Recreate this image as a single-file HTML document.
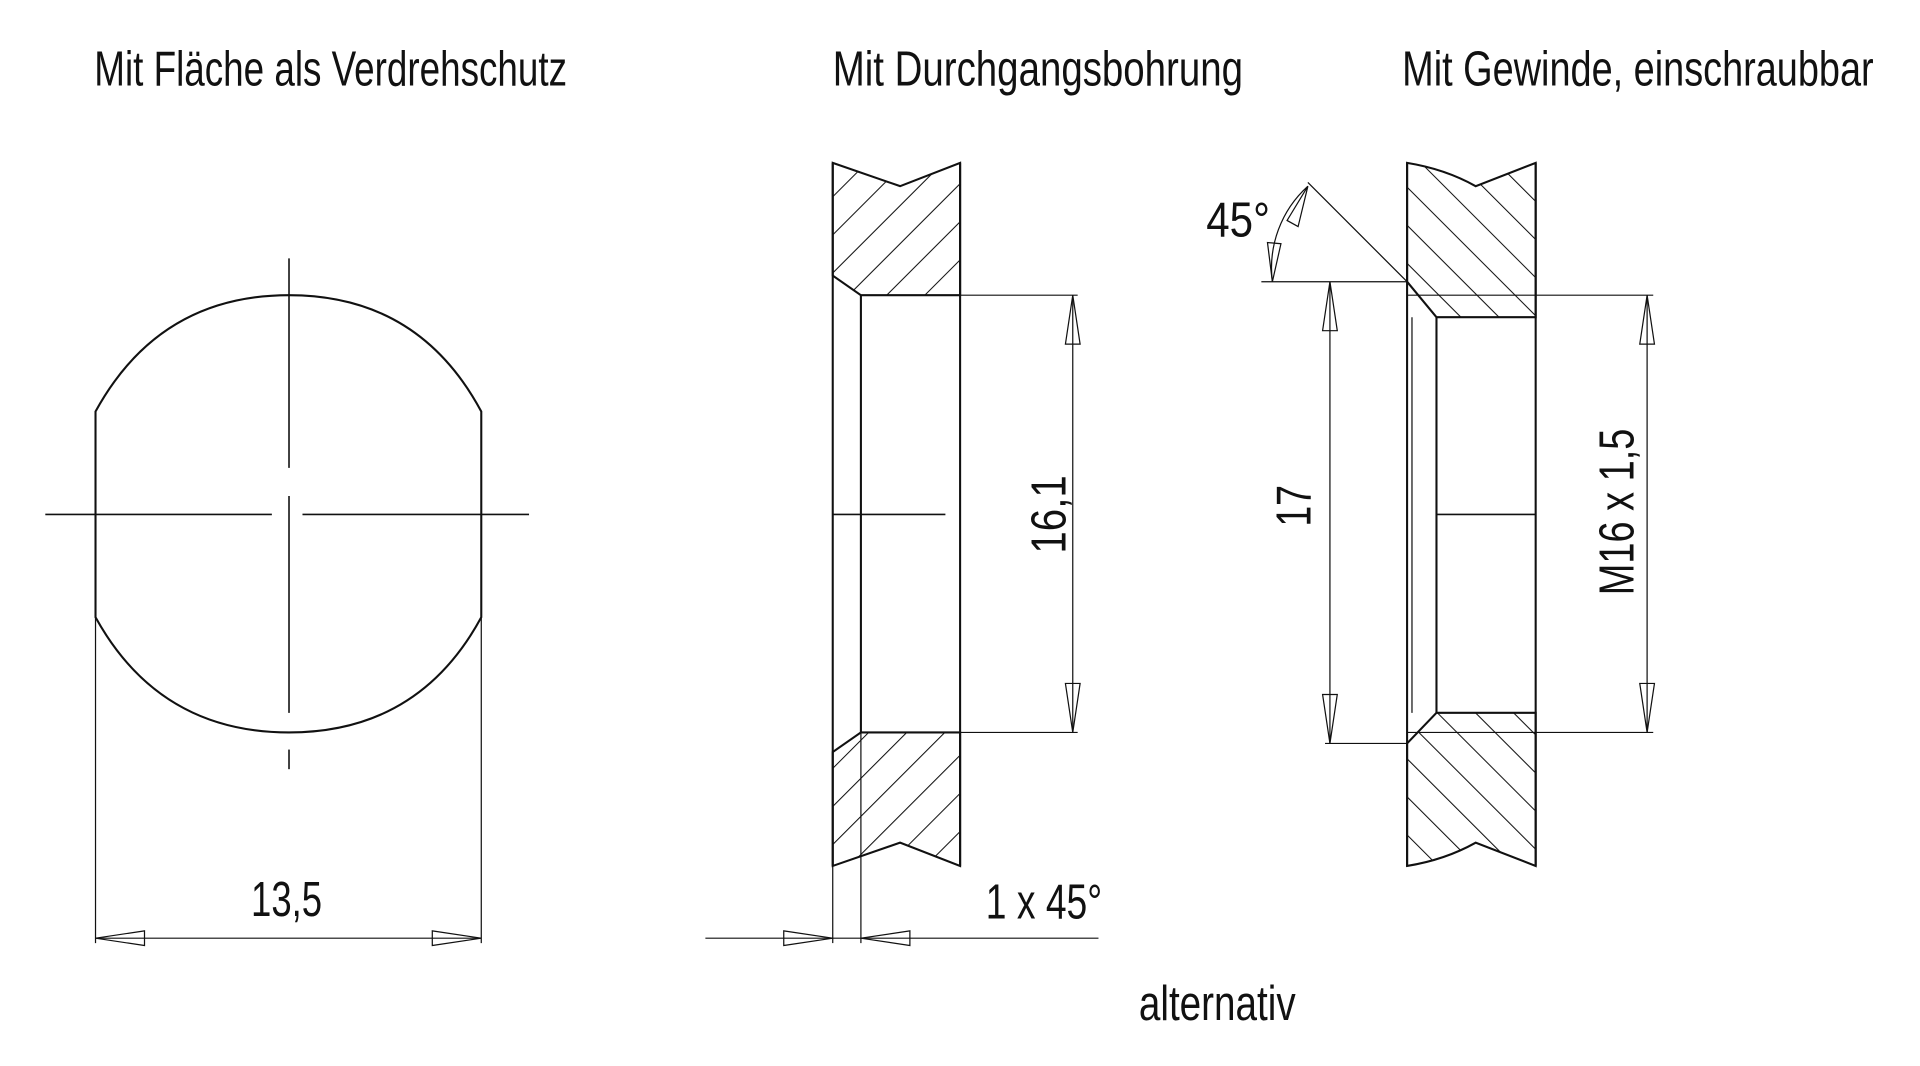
<!DOCTYPE html>
<html><head><meta charset="utf-8"><style>
html,body{margin:0;padding:0;background:#fff;}
svg{display:block;}
text{font-family:"Liberation Sans",sans-serif;fill:#111;}
</style></head><body>
<svg width="1920" height="1066" viewBox="0 0 1560 866" preserveAspectRatio="none" xmlns="http://www.w3.org/2000/svg">
<defs>
<pattern id="hf" patternUnits="userSpaceOnUse" width="22" height="22" patternTransform="rotate(-45)">
<line x1="0" y1="0" x2="0" y2="22" stroke="#111" stroke-width="1.7"/></pattern>
<pattern id="hb" patternUnits="userSpaceOnUse" width="22" height="22" patternTransform="rotate(45)">
<line x1="0" y1="0" x2="0" y2="22" stroke="#111" stroke-width="1.7"/></pattern>
</defs>
<g transform="scale(0.995)">
<text x="77" y="70" font-size="40" textLength="386" lengthAdjust="spacingAndGlyphs">Mit Fläche als Verdrehschutz</text>
<text x="680" y="70" font-size="40" textLength="335" lengthAdjust="spacingAndGlyphs">Mit Durchgangsbohrung</text>
<text x="1145" y="70" font-size="40" textLength="385" lengthAdjust="spacingAndGlyphs">Mit Gewinde, einschraubbar</text>

<!-- LEFT -->
<g fill="none" stroke="#111" stroke-width="1.7">
<path d="M78,336 L78,504 Q130,598 236,598 Q342,598 393,504 L393,336 Q342,241 236,241 Q130,241 78,336 Z"/>
</g>
<g stroke="#111" stroke-width="1.3" fill="none">
<line x1="236" y1="211" x2="236" y2="382"/>
<line x1="236" y1="405" x2="236" y2="582"/>
<line x1="236" y1="612" x2="236" y2="628"/>
<line x1="37" y1="420" x2="222" y2="420"/>
<line x1="247" y1="420" x2="432" y2="420"/>
<line x1="78" y1="504" x2="78" y2="770" stroke-width="1"/>
<line x1="393" y1="504" x2="393" y2="770" stroke-width="1"/>
<line x1="78" y1="766" x2="393" y2="766" stroke-width="1"/>
<path d="M78,766 L118,760 L118,772 Z M393,766 L353,760 L353,772 Z" stroke-width="1"/>
</g>
<text x="234" y="748" font-size="40" text-anchor="middle" textLength="58" lengthAdjust="spacingAndGlyphs">13,5</text>

<!-- MIDDLE -->
<path d="M680,133 L735,152 L784,133 L784,241 L703,241 L680,225 Z" fill="url(#hb)" stroke="#111" stroke-width="1.7"/>
<path d="M680,707 L735,688 L784,707 L784,598 L703,598 L680,614 Z" fill="url(#hb)" stroke="#111" stroke-width="1.7"/>
<g fill="none" stroke="#111" stroke-width="1.7">
<line x1="680" y1="133" x2="680" y2="707"/>
<line x1="703" y1="241" x2="703" y2="598"/>
<line x1="784" y1="133" x2="784" y2="707"/>
</g>
<g fill="none" stroke="#111" stroke-width="1">
<line x1="680" y1="420" x2="772" y2="420" stroke-width="1.3"/>
<line x1="680" y1="707" x2="680" y2="770"/>
<line x1="703" y1="598" x2="703" y2="770"/>
<line x1="784" y1="241" x2="880" y2="241"/>
<line x1="784" y1="598" x2="880" y2="598"/>
<line x1="876" y1="241" x2="876" y2="598"/>
<path d="M876,241 L870,281 L882,281 Z M876,598 L870,558 L882,558 Z"/>
<line x1="576" y1="766" x2="897" y2="766"/>
<path d="M680,766 L640,760 L640,772 Z M703,766 L743,760 L743,772 Z"/>
</g>
<text transform="translate(870,420) rotate(-90)" font-size="40" text-anchor="middle" textLength="64" lengthAdjust="spacingAndGlyphs">16,1</text>
<text x="805" y="750" font-size="40" textLength="95" lengthAdjust="spacingAndGlyphs">1 x 45°</text>
<text x="930" y="833" font-size="40" textLength="128" lengthAdjust="spacingAndGlyphs">alternativ</text>

<!-- RIGHT -->
<path d="M1149,133 Q1180,138 1205,152 L1254,133 L1254,259 L1173,259 L1149,230 Z" fill="url(#hf)" stroke="#111" stroke-width="1.7"/>
<path d="M1149,707 Q1180,702 1205,688 L1254,707 L1254,582 L1173,582 L1149,607 Z" fill="url(#hf)" stroke="#111" stroke-width="1.7"/>
<g fill="none" stroke="#111" stroke-width="1.7">
<line x1="1149" y1="133" x2="1149" y2="707"/>
<line x1="1173" y1="259" x2="1173" y2="582"/>
<line x1="1254" y1="133" x2="1254" y2="707"/>
</g>
<g fill="none" stroke="#111" stroke-width="1">
<line x1="1153" y1="259" x2="1153" y2="582"/>
<line x1="1173" y1="420" x2="1254" y2="420" stroke-width="1.3"/>
<line x1="1149" y1="241" x2="1350" y2="241"/>
<line x1="1149" y1="598" x2="1350" y2="598"/>
<line x1="1345" y1="241" x2="1345" y2="598"/>
<path d="M1345,241 L1339,281 L1351,281 Z M1345,598 L1339,558 L1351,558 Z"/>
<line x1="1030" y1="230" x2="1149" y2="230"/>
<line x1="1082" y1="607" x2="1149" y2="607"/>
<line x1="1086" y1="230" x2="1086" y2="607"/>
<path d="M1086,230 L1080,270 L1092,270 Z M1086,607 L1080,567 L1092,567 Z"/>
<line x1="1149" y1="230" x2="1068" y2="149"/>
<path d="M1068,152 A90,90 0 0 0 1039,230"/>
<path d="M1068,152 L1051,180 L1060,185 Z M1039,230 L1035,198 L1046,199 Z"/>
</g>
<text transform="translate(1070,413) rotate(-90)" font-size="40" text-anchor="middle" textLength="34" lengthAdjust="spacingAndGlyphs">17</text>
<text transform="translate(1334,418) rotate(-90)" font-size="40" text-anchor="middle" textLength="136" lengthAdjust="spacingAndGlyphs">M16 x 1,5</text>
<text x="985" y="193" font-size="40" textLength="52" lengthAdjust="spacingAndGlyphs">45°</text>
</g>
</svg>
</body></html>
